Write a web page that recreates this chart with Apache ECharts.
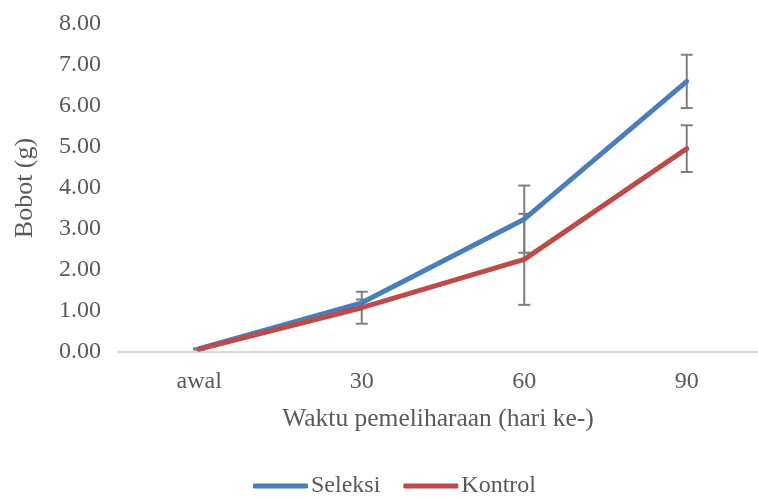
<!DOCTYPE html>
<html>
<head>
<meta charset="utf-8">
<script src="https://cdn.jsdelivr.net/npm/echarts@6/dist/echarts.min.js"></script>
<style>
  html, body { margin: 0; padding: 0; background: #fff; }
  #chart { width: 758px; height: 499px; }
</style>
</head>
<body>
<div id="chart"></div>
<script>
// Fish weight (g) over the rearing period
const categories = ['awal', '30', '60', '90'];
const seleksi = [0.08, 1.20, 3.24, 6.60];
const seleksiErr = [0.01, 0.08, 0.82, 0.65];
const kontrol = [0.07, 1.08, 2.26, 4.96];
const kontrolErr = [0.01, 0.39, 1.11, 0.57];
const yTicks = { min: 0, max: 8, interval: 1 };

const FONT = '"Liberation Serif", "Times New Roman", serif';
const TEXT = '#595959';

function errorRows(vals, errs) {
  return vals.map((v, i) => [i, v - errs[i], v + errs[i]]);
}

function renderErrorBar(params, api) {
  const lo = api.coord([api.value(0), api.value(1)]);
  const hi = api.coord([api.value(0), api.value(2)]);
  const half = 6;
  const style = { stroke: '#7f7f7f', lineWidth: 2 };
  return {
    type: 'group',
    children: [
      { type: 'line', shape: { x1: hi[0], y1: hi[1], x2: lo[0], y2: lo[1] }, style },
      { type: 'line', shape: { x1: hi[0] - half, y1: hi[1], x2: hi[0] + half, y2: hi[1] }, style },
      { type: 'line', shape: { x1: lo[0] - half, y1: lo[1], x2: lo[0] + half, y2: lo[1] }, style }
    ]
  };
}

const chart = echarts.init(document.getElementById('chart'), null, { renderer: 'canvas' });
chart.setOption({
  animation: false,
  backgroundColor: '#ffffff',
  textStyle: { fontFamily: FONT },
  // plot area runs past the right edge of the canvas
  grid: {
    left: 118, width: 650, top: 24, bottom: 147,
    containLabel: false, outerBoundsMode: 'none'
  },
  legend: {
    left: 253,
    top: 474,
    padding: 0,
    itemWidth: 55,
    itemHeight: 5,
    itemGap: 23,
    icon: 'roundRect',
    textStyle: { fontFamily: FONT, fontSize: 24, color: TEXT, padding: [0, 0, 0, -2] },
    data: ['Seleksi', 'Kontrol']
  },
  xAxis: {
    type: 'category',
    data: categories,
    boundaryGap: true,
    axisLine: { show: true, lineStyle: { color: '#d9d9d9', width: 2 } },
    axisTick: { show: false },
    axisLabel: { fontFamily: FONT, fontSize: 24, color: TEXT, margin: 18 },
    name: 'Waktu pemeliharaan (hari ke-)',
    nameLocation: 'middle',
    nameGap: 54,
    nameTextStyle: { fontFamily: FONT, fontSize: 25.5, color: TEXT, padding: [0, 10, 0, 0] }
  },
  yAxis: {
    type: 'value',
    min: yTicks.min,
    max: yTicks.max,
    interval: yTicks.interval,
    axisLine: { show: false },
    axisTick: { show: false },
    splitLine: { show: false },
    axisLabel: {
      fontFamily: FONT, fontSize: 24, color: TEXT, margin: 17,
      padding: [8, 0, 0, 0],
      formatter: v => v.toFixed(2)
    },
    name: 'Bobot (g)',
    nameLocation: 'middle',
    nameGap: 80,
    nameTextStyle: { fontFamily: FONT, fontSize: 26, color: TEXT }
  },
  series: [
    {
      name: 'Seleksi',
      type: 'line',
      data: seleksi,
      color: '#4a7ebb',
      symbol: 'none',
      z: 3,
      lineStyle: { width: 5, color: '#4a7ebb', cap: 'round', join: 'round' }
    },
    {
      name: 'Kontrol',
      type: 'line',
      data: kontrol,
      color: '#be4b48',
      symbol: 'none',
      z: 4,
      lineStyle: { width: 5, color: '#be4b48', cap: 'round', join: 'round' }
    },
    {
      name: 'errSeleksi',
      type: 'custom',
      renderItem: renderErrorBar,
      encode: { x: 0, y: [1, 2] },
      data: errorRows(seleksi, seleksiErr),
      z: 2
    },
    {
      name: 'errKontrol',
      type: 'custom',
      renderItem: renderErrorBar,
      encode: { x: 0, y: [1, 2] },
      data: errorRows(kontrol, kontrolErr),
      z: 2
    }
  ]
});
</script>
</body>
</html>
